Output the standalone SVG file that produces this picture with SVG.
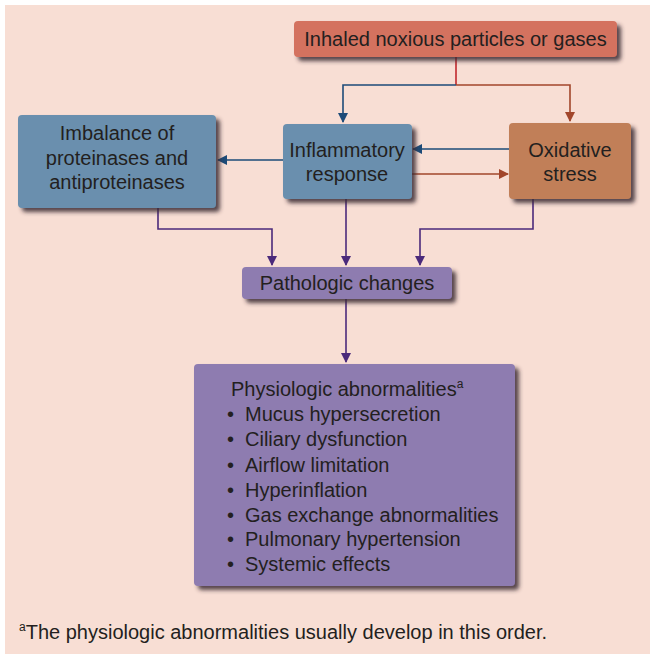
<svg xmlns="http://www.w3.org/2000/svg" width="650" height="654" viewBox="0 0 650 654">
  <defs>
    <style>
      .lbl { font-family: "Liberation Sans", Arial, sans-serif; font-size: 20px; fill: #231f20; }
      .mid { text-anchor: middle; }
      .box { stroke: none; filter: url(#shadow); }
      .c { fill: none; stroke-width: 1.6; }
      .blue { stroke: #1d4b78; }
      .brown { stroke: #a2462b; }
      .red { stroke: #c1272d; }
      .purple { stroke: #4b2a7b; }
    </style>
    <filter id="shadow" x="-10%" y="-20%" width="130%" height="150%">
      <feDropShadow dx="4" dy="4" stdDeviation="2" flood-color="#3a2a30" flood-opacity="0.85"/>
    </filter>
    <marker id="ahBlue" markerWidth="10" markerHeight="10" refX="9" refY="5" orient="auto" markerUnits="userSpaceOnUse">
      <path d="M0,0 L10,5 L0,10 Z" fill="#1d4b78"/>
    </marker>
    <marker id="ahBrown" markerWidth="10" markerHeight="10" refX="9" refY="5" orient="auto" markerUnits="userSpaceOnUse">
      <path d="M0,0 L10,5 L0,10 Z" fill="#a2462b"/>
    </marker>
    <marker id="ahPurple" markerWidth="10" markerHeight="10" refX="9" refY="5" orient="auto" markerUnits="userSpaceOnUse">
      <path d="M0,0 L10,5 L0,10 Z" fill="#4b2a7b"/>
    </marker>
  </defs>

  <!-- page -->
  <rect x="0" y="0" width="650" height="654" fill="#ffffff"/>
  <rect x="5" y="5" width="645" height="649" fill="#f8ded4"/>

  <!-- connectors -->
  <g id="connectors">
    <path class="c red" d="M456,57 V85"/>
    <path class="c blue" d="M456,85 H343 V122" marker-end="url(#ahBlue)"/>
    <path class="c brown" d="M456,85 H570 V121" marker-end="url(#ahBrown)"/>
    <path class="c blue" d="M509,149 H413" marker-end="url(#ahBlue)"/>
    <path class="c brown" d="M412,174 H508" marker-end="url(#ahBrown)"/>
    <path class="c blue" d="M283,160 H218" marker-end="url(#ahBlue)"/>
    <path class="c purple" d="M158,208 V229 H272 V265" marker-end="url(#ahPurple)"/>
    <path class="c purple" d="M346,199 V265" marker-end="url(#ahPurple)"/>
    <path class="c purple" d="M533,199 V229 H420 V265" marker-end="url(#ahPurple)"/>
    <path class="c purple" d="M346,299 V362" marker-end="url(#ahPurple)"/>
  </g>

  <g id="inhaled">
    <rect class="box" x="294" y="21" width="323" height="36" rx="4" fill="#d4725f"/>
    <text class="lbl mid" x="455.5" y="46">Inhaled noxious particles or gases</text>
  </g>

  <g id="imbalance">
    <rect class="box" x="18" y="115" width="198" height="93" rx="4" fill="#6a8fae"/>
    <text class="lbl mid" x="117" y="140">Imbalance of</text>
    <text class="lbl mid" x="117" y="165">proteinases and</text>
    <text class="lbl mid" x="117" y="189">antiproteinases</text>
  </g>

  <g id="inflammatory">
    <rect class="box" x="283" y="124" width="129" height="75" rx="4" fill="#6a8fae"/>
    <text class="lbl mid" x="347" y="157">Inflammatory</text>
    <text class="lbl mid" x="347" y="181">response</text>
  </g>

  <g id="oxidative">
    <rect class="box" x="509" y="123" width="122" height="76" rx="4" fill="#c17f59"/>
    <text class="lbl mid" x="570" y="157">Oxidative</text>
    <text class="lbl mid" x="570" y="181">stress</text>
  </g>

  <g id="pathologic">
    <rect class="box" x="242" y="267" width="210" height="32" rx="4" fill="#8e7bb0"/>
    <text class="lbl mid" x="347" y="290">Pathologic changes</text>
  </g>

  <g id="physiologic">
    <rect class="box" x="194" y="364" width="321" height="222" rx="4" fill="#8e7bb0"/>
    <text class="lbl" x="231" y="396">Physiologic abnormalities<tspan font-size="12" dy="-8">a</tspan></text>
    <g class="lbl">
      <text x="227" y="421">•</text><text x="245" y="421">Mucus hypersecretion</text>
      <text x="227" y="446">•</text><text x="245" y="446">Ciliary dysfunction</text>
      <text x="227" y="472">•</text><text x="245" y="472">Airflow limitation</text>
      <text x="227" y="497">•</text><text x="245" y="497">Hyperinflation</text>
      <text x="227" y="522">•</text><text x="245" y="522">Gas exchange abnormalities</text>
      <text x="227" y="546">•</text><text x="245" y="546">Pulmonary hypertension</text>
      <text x="227" y="571">•</text><text x="245" y="571">Systemic effects</text>
    </g>
  </g>

  <!-- footnote -->
  <text class="lbl" x="19" y="639"><tspan font-size="12" dy="-8">a</tspan><tspan dy="8">The physiologic abnormalities usually develop in this order.</tspan></text>
</svg>
